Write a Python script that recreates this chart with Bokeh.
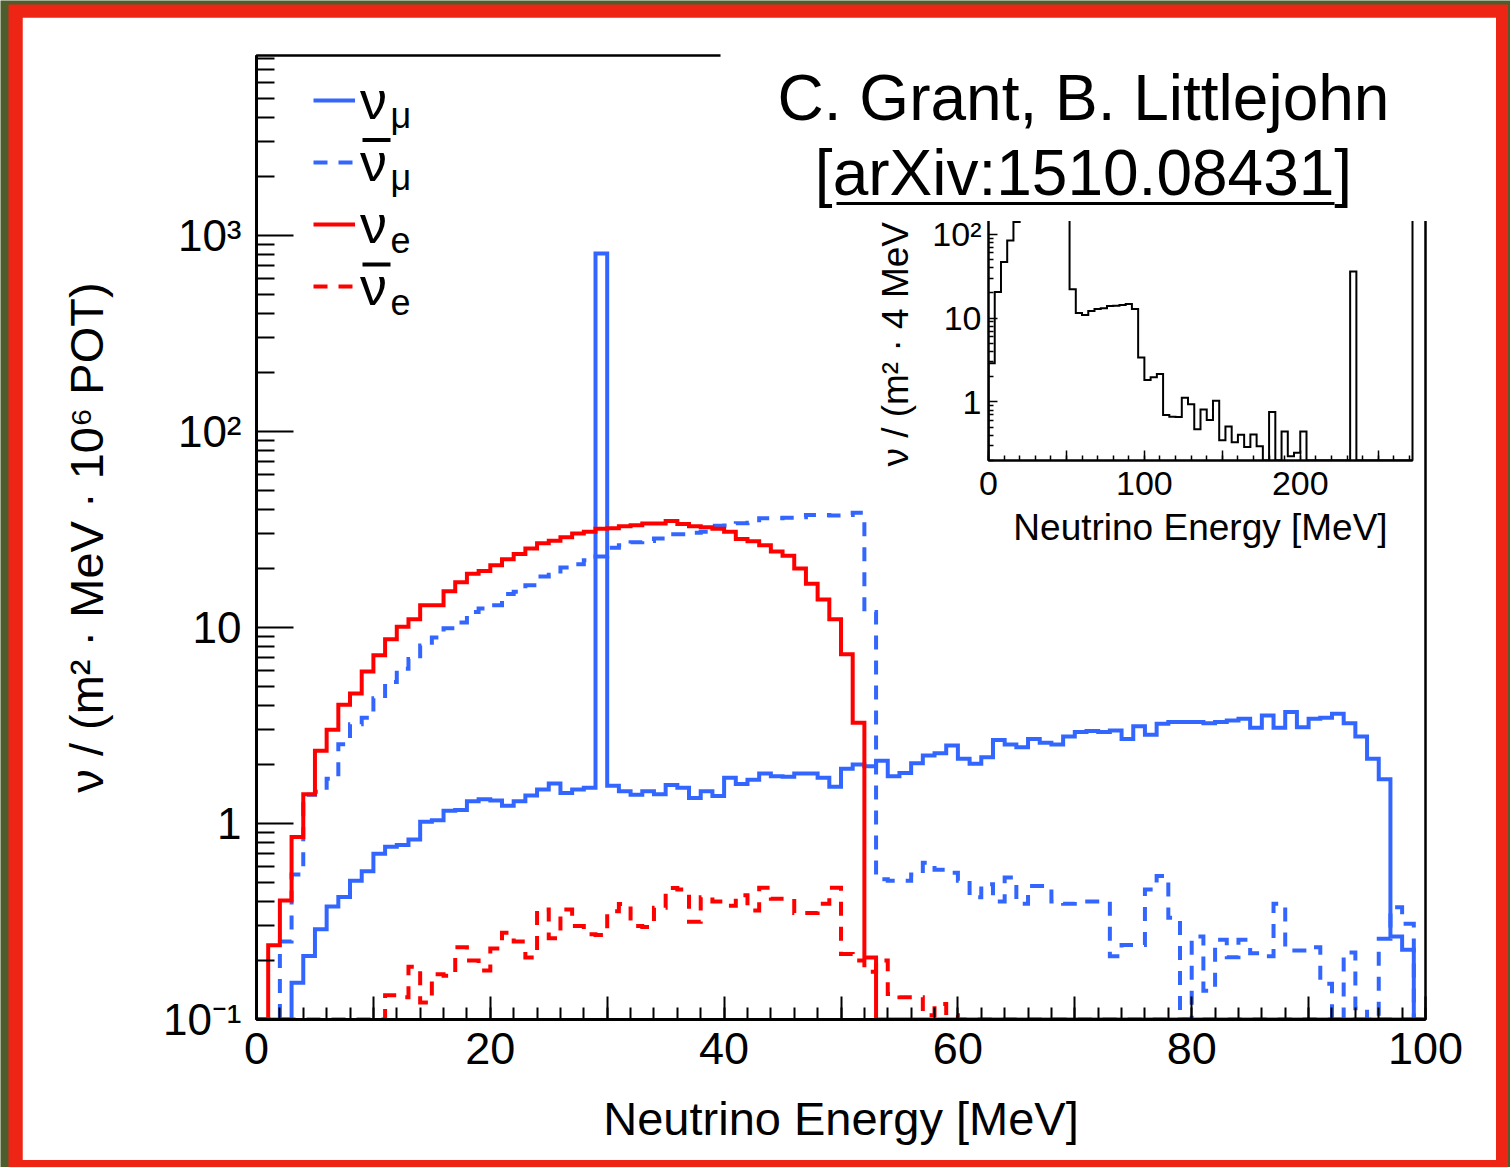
import numpy as np
from bokeh.plotting import figure
from bokeh.models import (Range1d, FixedTicker, Legend, LegendItem, Label,
                          BoxAnnotation, GridBox)
from bokeh.core.properties import value
from bokeh.embed import file_html
from bokeh.resources import INLINE

FONT = "Liberation Sans"
OUTER = "#4d5e2c"
RED_FRAME = "#ee2414"
BLUE = "#3266ff"
RED = "#ff0000"
DASH = "14 11"

# ---------------- data (1 MeV bins, 0-100 MeV) ----------------
energy_edges = list(range(0, 101))

nu_mu = [0, 0, 0, 0.154, 0.211, 0.289, 0.377, 0.422, 0.510, 0.571,
         0.700, 0.761, 0.777, 0.828, 1.02, 1.04, 1.16, 1.17, 1.30, 1.33,
         1.31, 1.23, 1.30, 1.39, 1.49, 1.60, 1.43, 1.49, 1.52, 810,
         1.56, 1.46, 1.40, 1.46, 1.41, 1.57, 1.52, 1.35, 1.46, 1.38,
         1.71, 1.59, 1.67, 1.80, 1.74, 1.73, 1.80, 1.80, 1.71, 1.54,
         1.90, 2.00, 1.96, 2.09, 1.74, 1.81, 2.03, 2.22, 2.28, 2.50,
         2.14, 2.02, 2.18, 2.67, 2.53, 2.45, 2.70, 2.58, 2.53, 2.78,
         2.93, 2.96, 2.93, 2.98, 2.70, 3.13, 2.84, 3.23, 3.29, 3.29,
         3.29, 3.25, 3.29, 3.35, 3.42, 3.08, 3.56, 3.08, 3.70, 3.10,
         3.42, 3.46, 3.63, 3.25, 2.78, 2.14, 1.68, 0.265, 0.227, 0]

nubar_mu = [0, 0, 0.25, 0.55, 1.40, 1.45, 1.69, 2.54, 3.21, 3.46,
            4.36, 5.27, 6.15, 6.9, 8.1, 8.9, 9.9, 10.6, 12.0, 12.5,
            13.0, 14.8, 15.2, 16.4, 18.2, 18.6, 20.2, 21.0, 22.0, 23.0,
            25.5, 26.3, 27.2, 27.6, 28.4, 29.9, 29.9, 30.4, 30.8, 33.0,
            33.1, 34.0, 34.2, 36.1, 36.1, 36.3, 36.5, 37.5, 37.5, 37.3,
            37.5, 38.5, 12.0, 0.52, 0.51, 0.51, 0.55, 0.63, 0.58, 0.56,
            0.51, 0.42, 0.49, 0.40, 0.53, 0.39, 0.48, 0.48, 0.40, 0.39,
            0.40, 0.40, 0.40, 0.21, 0.24, 0.24, 0.46, 0.54, 0.33, 0,
            0.265, 0.14, 0.255, 0.208, 0.255, 0.218, 0.21, 0.39, 0.225, 0.225,
            0.234, 0.152, 0, 0.22, 0.114, 0, 0.258, 0.374, 0.308, 0]

nu_e = [0, 0.239, 0.405, 0.853, 1.41, 2.35, 3.01, 4.04, 4.60, 5.97,
        7.22, 8.72, 10.1, 11.0, 13.0, 13.0, 15.3, 17.0, 18.8, 19.4,
        20.8, 22.3, 23.7, 25.3, 26.9, 27.7, 28.9, 30.2, 30.8, 31.9,
        32.1, 32.8, 33.2, 33.9, 33.9, 34.9, 33.7, 32.8, 32.5, 31.9,
        30.8, 28.3, 27.5, 26.3, 24.4, 23.2, 20.0, 16.7, 13.9, 11.0,
        7.3, 3.27, 0.207, 0, 0, 0, 0, 0, 0, 0,
        0, 0, 0, 0, 0, 0, 0, 0, 0, 0,
        0, 0, 0, 0, 0, 0, 0, 0, 0, 0,
        0, 0, 0, 0, 0, 0, 0, 0, 0, 0,
        0, 0, 0, 0, 0, 0, 0, 0, 0, 0]

nubar_e = [0, 0, 0, 0, 0, 0, 0, 0, 0, 0,
           0, 0.133, 0.13, 0.186, 0.122, 0.17, 0.167, 0.234, 0.2, 0.178,
           0.23, 0.277, 0.25, 0.207, 0.364, 0.26, 0.364, 0.30, 0.272, 0.27,
           0.357, 0.388, 0.30, 0.296, 0.372, 0.469, 0.46, 0.315, 0.42, 0.40,
           0.38, 0.43, 0.36, 0.47, 0.413, 0.413, 0.349, 0.349, 0.39, 0.47,
           0.216, 0.20, 0.175, 0.20, 0.135, 0.13, 0.13, 0.105, 0.12, 0.105,
           0, 0, 0, 0, 0, 0, 0, 0, 0, 0,
           0, 0, 0, 0, 0, 0, 0, 0, 0, 0,
           0, 0, 0, 0, 0, 0, 0, 0, 0, 0,
           0, 0, 0, 0, 0, 0, 0, 0, 0, 0]

# inset: total flux, 4 MeV bins, 0-272 MeV
inset_edges = list(range(0, 273, 4))
inset_total = [2.9, 20.5, 46.9, 84.7, 140, 190, 220, 1040, 250, 255,
               255, 230, 190, 22.1, 11.5, 10.9, 12.2, 12.9, 13.1, 14.0,
               14.1, 14.4, 14.8, 12.9, 3.38, 1.83, 1.97, 2.15, 0.697, 0.667,
               0.66, 1.12, 0.94, 0.473, 0.81, 0.61, 1.03, 0.348, 0.508, 0.33,
               0.405, 0.29, 0.41, 0.296, 0, 0.76, 0, 0.444, 0.225, 0.247,
               0.444, 0, 0, 0, 0, 0, 0, 0, 36, 0,
               0, 0, 0, 0, 0, 0, 0, 0]

# ticks / labels
x_tick_values = [0, 10, 20, 30, 40, 50, 60, 70, 80, 90, 100]
x_tick_labels = ["0", "", "20", "", "40", "", "60", "", "80", "", "100"]
y_tick_values = [0.1, 1, 10, 100, 1000]
y_tick_labels = ["10⁻¹", "1", "10", "10²", "10³"]
inset_x_tick_values = [0, 50, 100, 150, 200, 250]
inset_x_tick_labels = ["0", "", "100", "", "200", ""]
inset_y_tick_values = [1, 10, 100]
inset_y_tick_labels = ["1", "10", "10²"]

x_title = "Neutrino Energy [MeV]"
y_title = "ν / (m² · MeV · 10⁶ POT)"
inset_y_title = "ν / (m² · 4 MeV ·"
legend_base = ["ν", "ν", "ν", "ν"]
legend_sub = ["μ", "μ", "e", "e"]
legend_bar = [False, True, False, True]
credit_line = "C. Grant, B. Littlejohn"
arxiv_line = "[arXiv:1510.08431]"

YMIN, YMAX = 0.1, 8280
IYMIN, IYMAX = 0.2, 221


def step_path(edges, vals, floor):
    xs, ys = [edges[0]], [floor]
    for i, v in enumerate(vals):
        vv = max(v, floor)
        xs += [edges[i], edges[i + 1]]
        ys += [vv, vv]
    xs.append(edges[-1])
    ys.append(floor)
    return xs, ys


def minor_log(lo_exp, hi_exp):
    out = []
    for d in range(lo_exp, hi_exp + 1):
        for k in range(2, 10):
            out.append(k * 10.0 ** d)
    return out


def style_axis(ax, label, label_size, tick_size, standoff, label_standoff):
    ax.axis_label = label
    ax.axis_label_text_font = FONT
    ax.axis_label_text_font_style = "normal"
    ax.axis_label_text_font_size = label_size
    ax.axis_label_text_color = "black"
    ax.axis_label_standoff = label_standoff
    ax.major_label_text_font = FONT
    ax.major_label_text_font_size = tick_size
    ax.major_label_text_color = "black"
    ax.major_label_standoff = standoff
    ax.axis_line_color = "black"
    ax.major_tick_line_color = "black"
    ax.minor_tick_line_color = "black"
    ax.major_tick_out = 0
    ax.minor_tick_out = 0


def plain_box(w, h, color):
    f = figure(width=w, height=h, x_axis_location=None, y_axis_location=None,
               toolbar_location=None, output_backend="svg", min_border=0,
               background_fill_color=color, border_fill_color=color,
               outline_line_color=None, x_range=(0, 1), y_range=(0, 1))
    f.grid.visible = False
    return f


# ---------------- backgrounds ----------------
outer = plain_box(1510, 1167, OUTER)
red_frame = plain_box(1500, 1163, RED_FRAME)

# ---------------- main plot ----------------
p = figure(width=1474, height=1143, x_range=Range1d(0, 100),
           y_range=Range1d(YMIN, YMAX), y_axis_type="log",
           output_backend="svg", toolbar_location=None,
           min_border_left=234, min_border_right=71, min_border_top=38,
           min_border_bottom=141, background_fill_color="white",
           border_fill_color="white")
p.grid.visible = False
p.outline_line_color = "black"
p.outline_line_width = 2.5

xa = p.xaxis[0]
style_axis(xa, x_title, "47px", "45px", 13, 25)
xa.ticker = FixedTicker(ticks=x_tick_values, minor_ticks=list(range(0, 101, 2)))
xa.major_label_overrides = dict(zip(x_tick_values, x_tick_labels))
xa.major_tick_in = 23
xa.minor_tick_in = 12
xa.axis_line_width = 3
xa.major_tick_line_width = 2
xa.minor_tick_line_width = 2

ya = p.yaxis[0]
style_axis(ya, y_title, "47px", "44px", 15, 47)
ya.ticker = FixedTicker(ticks=y_tick_values, minor_ticks=minor_log(-1, 3))
ya.major_label_overrides = dict(zip(y_tick_values, y_tick_labels))
ya.major_tick_in = 37
ya.minor_tick_in = 18
ya.axis_line_width = 3
ya.major_tick_line_width = 2
ya.minor_tick_line_width = 2

series = [(nu_mu, BLUE, "solid"), (nubar_mu, BLUE, DASH),
          (nu_e, RED, "solid"), (nubar_e, RED, DASH)]
renderers = []
for vals, color, dash in series:
    xs, ys = step_path(energy_edges, vals, YMIN)
    r = p.line(xs, ys, line_color=color, line_width=4, line_dash=dash,
               line_join="miter")
    renderers.append(r)

# legend: (x, y) is the legend's bottom-left corner, frame-relative
legend = Legend(items=[LegendItem(label=value(t), renderers=[r])
                       for t, r in zip(legend_base, renderers)],
                location=(57, 702), orientation="vertical", padding=0, margin=0,
                spacing=0, glyph_width=42, glyph_height=62, label_height=62,
                label_standoff=5, label_text_font=FONT,
                label_text_font_size="54px", label_text_color="black",
                border_line_color=None, background_fill_alpha=0)
p.add_layout(legend)

ROW = 62.2
for i, (sub, bar) in enumerate(zip(legend_sub, legend_bar)):
    p.add_layout(Label(x=134, y=904 - ROW * i, x_units="screen", y_units="screen",
                       text=sub, text_font=FONT, text_font_size="36px",
                       text_color="black", text_baseline="alphabetic"))
    if bar:
        p.add_layout(BoxAnnotation(left=106, right=134, bottom=877.5 - ROW * (i - 1),
                                   top=881.5 - ROW * (i - 1),
                                   left_units="screen", right_units="screen",
                                   top_units="screen", bottom_units="screen",
                                   fill_color="black", fill_alpha=1.0,
                                   line_color=None))

# ---------------- inset ----------------
q = figure(width=548, height=362, x_range=Range1d(0, 272),
           y_range=Range1d(IYMIN, IYMAX), y_axis_type="log",
           output_backend="svg", toolbar_location=None,
           min_border_left=113, min_border_right=8, min_border_top=5,
           min_border_bottom=102, background_fill_color="white",
           border_fill_color="white")
q.grid.visible = False
q.outline_line_color = "black"
q.outline_line_width = 2

qx = q.xaxis[0]
style_axis(qx, x_title, "37px", "34px", 11, 9)
qx.ticker = FixedTicker(ticks=inset_x_tick_values, minor_ticks=list(range(0, 273, 10)))
qx.major_label_overrides = dict(zip(inset_x_tick_values, inset_x_tick_labels))
qx.major_tick_in = 10
qx.minor_tick_in = 5
qx.axis_line_width = 2
qx.major_tick_line_width = 1.5
qx.minor_tick_line_width = 1.5

qy = q.yaxis[0]
style_axis(qy, inset_y_title, "37px", "34px", 7, 13)
qy.ticker = FixedTicker(ticks=inset_y_tick_values, minor_ticks=minor_log(-1, 2))
qy.major_label_overrides = dict(zip(inset_y_tick_values, inset_y_tick_labels))
qy.major_tick_in = 9
qy.minor_tick_in = 5
qy.axis_line_width = 2
qy.major_tick_line_width = 1.5
qy.minor_tick_line_width = 1.5

ixs, iys = step_path(inset_edges, inset_total, IYMIN)
q.line(ixs, iys, line_color="black", line_width=2, line_join="miter")

# ---------------- credit box ----------------
t = figure(width=712, height=191, x_range=Range1d(0, 712), y_range=Range1d(191, 0),
           x_axis_location=None, y_axis_location=None, toolbar_location=None,
           output_backend="svg", min_border=0, background_fill_color="white",
           border_fill_color="white", outline_line_color=None)
t.grid.visible = False
t.text(x=[363, 363], y=[67, 142], text=[credit_line, arxiv_line],
       text_font=value(FONT), text_font_size="64px", text_align="center",
       text_baseline="alphabetic", text_color="black")
t.segment(x0=[116], y0=[173], x1=[614], y1=[173], line_width=3, line_color="black")

# ---------------- overlapping grid ----------------
grid = GridBox(children=[(outer, 0, 0, 8, 9), (red_frame, 1, 1, 7, 7),
                         (p, 2, 2, 5, 5), (q, 4, 4, 2, 1), (t, 3, 3, 2, 3)],
               rows=["4px", "13px", "13px", "170px", "21px", "341px", "598px", "7px"],
               cols=["8px", "14px", "698px", "152px", "548px", "12px", "64px",
                     "12px", "2px"],
               spacing=0)

open("out.html", "w").write(file_html(grid, INLINE))
